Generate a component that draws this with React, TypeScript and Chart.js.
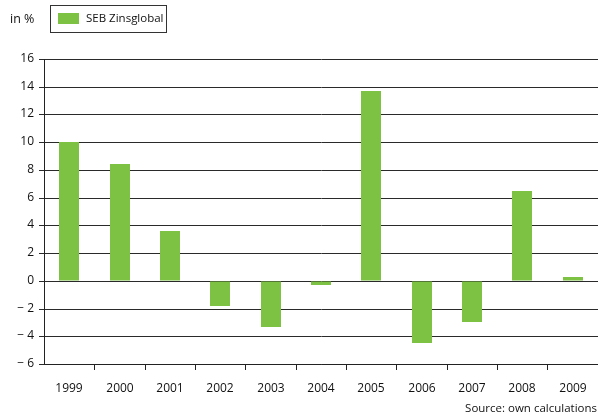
import React, { useEffect, useRef } from "react";
import { Chart, registerables } from "chart.js";

Chart.register(...registerables);

const categories = ["1999", "2000", "2001", "2002", "2003", "2004", "2005", "2006", "2007", "2008", "2009"];
const seriesLabel = "SEB Zinsglobal";
const seriesValues = [10.0, 8.4, 3.6, -1.8, -3.3, -0.3, 13.7, -4.45, -3.0, 6.5, 0.3];
const yTicks = [16, 14, 12, 10, 8, 6, 4, 2, 0, -2, -4, -6];
const unitLabel = "in %";
const sourceLabel = "Source: own calculations";

const GREEN = "#7DC242";
const FONT = "'Open Sans', sans-serif";
const TEXT = "#111";

const decorPlugin = {
  id: "decor",
  afterDraw(chart: any) {
    const ctx = chart.ctx;
    ctx.save();
    ctx.fillStyle = TEXT;
    ctx.textBaseline = "middle";
    ctx.font = `12.5px ${FONT}`;
    ctx.textAlign = "left";
    ctx.fillText(unitLabel, 10, 19);
    // legend box
    ctx.strokeStyle = "#333";
    ctx.lineWidth = 1;
    ctx.strokeRect(50.5, 5.5, 116, 27);
    ctx.fillStyle = GREEN;
    ctx.fillRect(58, 13, 21, 11);
    ctx.fillStyle = TEXT;
    ctx.font = `11.5px ${FONT}`;
    ctx.fillText(seriesLabel, 86, 19);
    ctx.textAlign = "right";
    ctx.font = `11.5px ${FONT}`;
    ctx.fillText(sourceLabel, 597, 409);
    ctx.restore();
  },
};

export default function App() {
  const ref = useRef<HTMLCanvasElement>(null);
  useEffect(() => {
    document.body.style.margin = "0";
    const chart = new Chart(ref.current as HTMLCanvasElement, {
      type: "bar",
      data: {
        labels: categories,
        datasets: [
          {
            label: seriesLabel,
            data: seriesValues,
            backgroundColor: GREEN,
            borderWidth: 0,
            barPercentage: 0.4,
            categoryPercentage: 1,
          },
        ],
      },
      options: {
        responsive: false,
        animation: false,
        layout: { padding: { top: 59, right: 0, left: 0, bottom: 0 } },
        plugins: { legend: { display: false }, tooltip: { enabled: false } },
        scales: {
          x: {
            offset: true,
            alignToPixels: true,
            grid: {
              offset: true,
              drawOnChartArea: false,
              drawTicks: true,
              tickLength: 6,
              color: "#222",
            },
            border: { color: "#222", width: 1 },
            ticks: { color: TEXT, font: { family: FONT, size: 12 }, padding: 11, maxRotation: 0 },
            afterFit(scale: any) {
              scale.height = 52;
            },
          },
          y: {
            min: -6,
            max: 16,
            alignToPixels: true,
            afterBuildTicks(scale: any) {
              scale.ticks = yTicks.map((v) => ({ value: v }));
            },
            grid: {
              color: "#2a2a2a",
              lineWidth: 1,
              tickLength: 5,
              drawTicks: true,
            },
            border: { color: "#222", width: 1 },
            ticks: {
              color: TEXT,
              font: { family: FONT, size: 12 },
              padding: 5,
              callback: (v: any) => (Number(v) < 0 ? "\u2212 " + Math.abs(Number(v)) : String(v)),
            },
            afterFit(scale: any) {
              scale.width = 44;
            },
          },
        },
      },
      plugins: [decorPlugin],
    });
    return () => chart.destroy();
  }, []);
  return <canvas ref={ref} width={598} height={416} style={{ display: "block" }} />;
}
